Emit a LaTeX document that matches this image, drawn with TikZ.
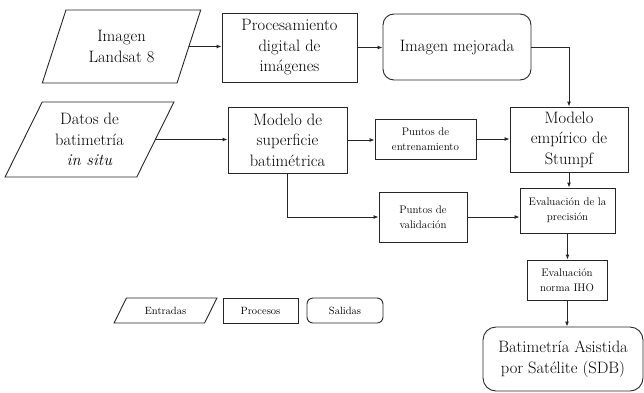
\documentclass[tikz,border=0pt]{standalone}
\usepackage{fontspec}
\usetikzlibrary{shapes.geometric,arrows.meta}
\tikzset{
  box/.style={draw=black!85, line width=0.9pt, align=center, inner sep=1pt, text=black},
  big/.style={font=\rmfamily\fontsize{16.5}{20.5}\selectfont},
  small/.style={font=\rmfamily\fontsize{11}{15}\selectfont},
  leg/.style={font=\rmfamily\fontsize{10.5}{13}\selectfont},
  proc/.style={box, rectangle},
  outp/.style={box, rectangle, rounded corners=11pt},
  inp/.style={box, trapezium, trapezium stretches=true},
  arr/.style={draw=black!85, line width=0.9pt, -{Latex[length=5pt,width=4pt]}}
}
\begin{document}
\begin{tikzpicture}[x=1pt,y=-1pt]
\useasboundingbox (0,0) rectangle (644,392);
% inputs
\node[inp, big, trapezium left angle=67, trapezium right angle=113, minimum width=159pt, minimum height=73pt] (img) at (121.5,46.5) {Imagen\\Landsat 8};
\node[inp, big, trapezium left angle=63, trapezium right angle=117, minimum width=169pt, minimum height=75pt] (datos) at (89.5,139.5) {Datos de\\batimetría\\\textit{in situ}};
% processes
\node[proc, big, minimum width=135pt, minimum height=69pt] (proc) at (289.5,47.5) {Procesamiento\\digital de\\imágenes};
\node[outp, big, minimum width=148pt, minimum height=66pt] (mej) at (457,47) {Imagen mejorada};
\node[proc, big, minimum width=119pt, minimum height=66pt] (sup) at (287.5,140) {Modelo de\\superficie\\batimétrica};
\node[proc, small, minimum width=101pt, minimum height=40pt] (ent) at (425.5,139) {Puntos de\\entrenamiento};
\node[proc, big, minimum width=118pt, minimum height=65pt] (emp) at (569,139.5) {Modelo\\empírico de\\Stumpf};
\node[proc, small, minimum width=88pt, minimum height=50pt] (val) at (423,217) {Puntos de\\validación};
\node[proc, small, minimum width=95pt, minimum height=45pt] (prec) at (567.5,210.5) {Evaluación de la\\precisión};
\node[proc, small, minimum width=80pt, minimum height=40pt] (iho) at (567,280) {Evaluación\\norma IHO};
\node[outp, big, rounded corners=13pt, minimum width=160pt, minimum height=64pt] (sdb) at (563,359) {Batimetría Asistida\\por Satélite (SDB)};
% legend
\node[inp, leg, trapezium left angle=54, trapezium right angle=126, minimum width=103pt, minimum height=25pt] (lentr) at (165.5,310.5) {Entradas};
\node[proc, leg, minimum width=75pt, minimum height=25pt] (lproc) at (260.5,310.5) {Procesos};
\node[outp, leg, rounded corners=6pt, minimum width=76pt, minimum height=25pt] (lsal) at (345,310.5) {Salidas};
% connectors
\draw[arr] (img.east) -- (img.east -| proc.west);
\draw[arr] (proc.east) -- (proc.east -| mej.west);
\draw[arr] (mej.east) -| (emp.north);
\draw[arr] (datos.east) -- (datos.east -| sup.west);
\draw[arr] (sup.east) -- (sup.east -| ent.west);
\draw[arr] (ent.east) -- (ent.east -| emp.west);
\draw[arr] (sup.south) |- (val.west);
\draw[arr] (val.east) -- (val.east -| prec.west);
\draw[arr] (emp.south) -- (emp.south |- prec.north);
\draw[arr] (prec.south) -- (prec.south |- iho.north);
\draw[arr] (iho.south) -- (iho.south |- sdb.north);
\end{tikzpicture}
\end{document}
